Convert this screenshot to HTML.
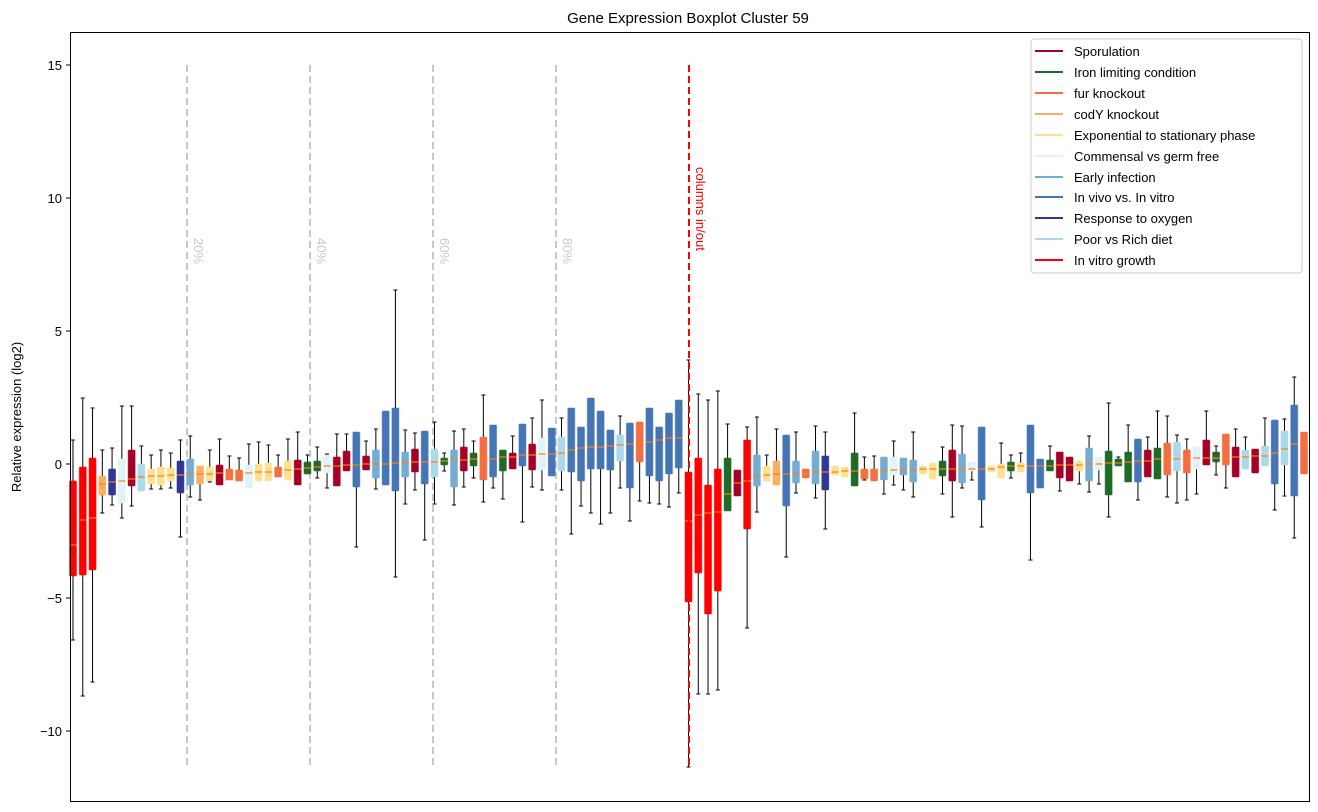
<!DOCTYPE html>
<html><head><meta charset="utf-8"><style>
body{margin:0;background:#fff}
svg{display:block;font-family:"Liberation Sans",sans-serif}
</style></head><body>
<svg id="s" width="1318" height="812" viewBox="0 0 1318 812" xmlns="http://www.w3.org/2000/svg">
<rect width="1318" height="812" fill="#fff"/>
<text x="688" y="23" font-size="15" text-anchor="middle">Gene Expression Boxplot Cluster 59</text>
<text transform="translate(21,417) rotate(-90)" font-size="13" text-anchor="middle">Relative expression (log2)</text>
<g font-size="13" text-anchor="end">
<line x1="66" x2="70" y1="65" y2="65" stroke="#000"/><text x="62" y="70">15</text>
<line x1="66" x2="70" y1="198" y2="198" stroke="#000"/><text x="62" y="203">10</text>
<line x1="66" x2="70" y1="331" y2="331" stroke="#000"/><text x="62" y="336">5</text>
<line x1="66" x2="70" y1="464" y2="464" stroke="#000"/><text x="62" y="469">0</text>
<line x1="66" x2="70" y1="598" y2="598" stroke="#000"/><text x="62" y="603">−5</text>
<line x1="66" x2="70" y1="731" y2="731" stroke="#000"/><text x="62" y="736">−10</text>
</g>
<g stroke="#c8c8c8" stroke-width="2" stroke-dasharray="7,4">
<line x1="187" x2="187" y1="65" y2="767"/><line x1="310" x2="310" y1="65" y2="767"/>
<line x1="433" x2="433" y1="65" y2="767"/><line x1="556" x2="556" y1="65" y2="767"/>
</g>
<g fill="#c8c8c8" font-size="13">
<text transform="translate(194,238) rotate(90)">20%</text>
<text transform="translate(317,238) rotate(90)">40%</text>
<text transform="translate(440,238) rotate(90)">60%</text>
<text transform="translate(563,238) rotate(90)">80%</text>
</g>
<g id="boxes"></g>
<line x1="689" x2="689" y1="65" y2="767" stroke="#f00" stroke-width="2" stroke-dasharray="7,4"/>
<text transform="translate(696,167) rotate(90)" fill="#f00" font-size="13">columns in/out</text>
<rect x="70.5" y="32.5" width="1239" height="769" fill="none" stroke="#000"/>
<rect x="1031" y="39" width="271" height="234" rx="3" fill="#fff" fill-opacity="0.85" stroke="#ccc"/>
<g font-size="13" stroke-width="2">
<line x1="1035" x2="1063" y1="51" y2="51" stroke="#a50026"/><text x="1074" y="56">Sporulation</text>
<line x1="1035" x2="1063" y1="72" y2="72" stroke="#1e6b28"/><text x="1074" y="77">Iron limiting condition</text>
<line x1="1035" x2="1063" y1="93" y2="93" stroke="#f46d43"/><text x="1074" y="98">fur knockout</text>
<line x1="1035" x2="1063" y1="114" y2="114" stroke="#fdae61"/><text x="1074" y="119">codY knockout</text>
<line x1="1035" x2="1063" y1="135" y2="135" stroke="#fee090"/><text x="1074" y="140">Exponential to stationary phase</text>
<line x1="1035" x2="1063" y1="156" y2="156" stroke="#e0f3f8"/><text x="1074" y="161">Commensal vs germ free</text>
<line x1="1035" x2="1063" y1="177" y2="177" stroke="#74add1"/><text x="1074" y="182">Early infection</text>
<line x1="1035" x2="1063" y1="197" y2="197" stroke="#4575b4"/><text x="1074" y="202">In vivo vs. In vitro</text>
<line x1="1035" x2="1063" y1="218" y2="218" stroke="#313695"/><text x="1074" y="223">Response to oxygen</text>
<line x1="1035" x2="1063" y1="239" y2="239" stroke="#abd9e9"/><text x="1074" y="244">Poor vs Rich diet</text>
<line x1="1035" x2="1063" y1="260" y2="260" stroke="#ff0000"/><text x="1074" y="265">In vitro growth</text>
</g>
</svg>
<script>
var C={S:"#a50026",I:"#1e6b28",F:"#f46d43",C:"#fdae61",E:"#fee090",M:"#e0f3f8",A:"#74add1",V:"#4575b4",O:"#313695",P:"#abd9e9",R:"#ff0000"};
var D=[
["R",440,481,545,576,640],["R",398,467,520,575,696],["R",408,458,518,570,682],["C",450,476,484,495,513],["O",448,469,482,495,505],
["M",406,459,481,503,518],["S",406,450,479,486,506],["P",446,464,477,491,491],["E",455,469,476,484,489],["E",450,467,476,485,489],
["E",453,468,475,481,488],["O",440,461,475,493,537],["A",436,459,474,485,497],["C",466,466,474,484,500],["E",450,467,474,481,482],
["S",439,465,473,485,485],["F",456,469,474,480,480],["F",458,470,473,481,481],["M",444,465,473,488,488],["E",442,464,472,481,481],
["E",445,463,472,481,481],["F",455,467,471,477,477],["E",439,461,470,480,480],["S",432,460,469,485,485],["I",455,462,468,474,474],
["I",447,461,467,471,478],["M",454,455,466,473,488],["S",434,457,466,486,486],["S",434,451,465,471,471],["V",432,432,465,487,547],
["S",441,456,464,470,470],["A",429,450,464,478,489],["V",411,411,464,485,485],["V",290,408,463,491,577],["A",430,452,463,477,504],
["S",433,449,462,472,490],["V",431,431,462,484,540],["P",422,449,462,477,504],["I",453,458,461,465,471],["A",431,450,460,487,505],
["S",429,447,460,471,487],["I",441,453,459,466,478],["F",395,437,459,480,502],["V",425,425,459,477,488],["I",450,450,457,471,499],
["S",436,453,457,469,469],["V",424,424,455,466,522],["S",418,444,455,470,487],["M",400,438,454,470,490],["V",428,428,454,476,476],
["P",418,437,453,471,490],["V",408,408,450,472,534],["V",427,427,448,481,506],["V",398,398,447,469,513],["V",411,411,447,469,524],
["V",430,430,446,470,513],["P",416,435,445,461,488],["V",423,423,444,488,521],["F",422,422,443,462,501],["V",408,408,442,476,503],
["V",427,427,440,481,504],["V",413,413,438,474,507],["V",400,400,438,468,493],["R",360,472,521,602,767],["R",394,458,515,573,694],
["R",400,485,513,614,694],["R",391,469,512,591,690],["I",424,458,494,511,511],["S",470,470,483,496,496],["R",427,440,481,529,628],
["A",417,455,476,486,512],["E",455,466,475,481,481],["C",429,461,474,485,485],["V",435,435,474,506,557],["A",432,461,474,483,493],
["F",469,469,474,478,478],["A",426,451,472,484,498],["O",432,456,472,490,529],["E",466,466,472,475,475],["E",467,467,471,477,477],
["I",413,453,471,486,486],["F",457,469,471,479,480],["F",456,469,471,481,481],["A",457,457,471,480,494],["M",441,457,470,475,485],
["A",458,458,470,475,490],["A",432,460,470,482,497],["E",466,466,469,474,474],["E",463,463,469,479,479],["I",447,461,469,476,494],
["S",425,450,469,481,517],["A",426,454,469,483,488],["M",462,462,469,471,480],["V",427,427,469,500,527],["E",466,466,469,472,472],
["E",443,464,467,478,478],["I",455,462,466,471,478],["E",453,463,466,472,472],["V",425,425,466,493,560],["V",459,459,466,488,488],
["I",446,460,466,471,471],["S",452,452,465,478,491],["S",457,457,465,481,481],["E",461,461,465,471,484],["A",436,448,464,481,492],
["M",457,457,464,470,484],["I",403,451,463,495,517],["I",457,459,463,466,466],["I",425,452,462,482,482],["V",439,439,461,482,500],
["S",437,450,461,477,477],["I",411,448,459,479,479],["F",416,443,459,475,497],["P",435,442,459,471,503],["F",439,450,459,473,500],
["M",447,447,458,469,494],["S",411,440,458,465,465],["I",446,452,458,462,475],["F",434,434,458,465,488],["S",429,447,457,477,477],
["P",437,450,457,469,469],["S",449,449,456,473,473],["P",418,446,456,466,466],["V",420,420,453,484,510],["P",419,431,449,465,496],
["V",377,405,444,496,538],["F",432,432,442,474,474]];
var ns="http://www.w3.org/2000/svg",g=document.getElementById("boxes"),h="";
D.forEach(function(d,i){var x=73+i*9.77,c=C[d[0]];
 if(d[1]<d[2])h+='<line x1="'+x+'" x2="'+x+'" y1="'+d[1]+'" y2="'+d[2]+'" stroke="#000"/><line x1="'+(x-2)+'" x2="'+(x+2)+'" y1="'+d[1]+'" y2="'+d[1]+'" stroke="#000"/>';
 if(d[5]>d[4])h+='<line x1="'+x+'" x2="'+x+'" y1="'+d[4]+'" y2="'+d[5]+'" stroke="#000"/><line x1="'+(x-2)+'" x2="'+(x+2)+'" y1="'+d[5]+'" y2="'+d[5]+'" stroke="#000"/>';
 h+='<rect x="'+(x-3.5)+'" y="'+d[2]+'" width="7" height="'+Math.max(2,d[4]-d[2])+'" rx="1" fill="'+c+'" stroke="'+c+'" stroke-opacity="0.5"/>';
 h+='<line x1="'+(x-3.5)+'" x2="'+(x+3.5)+'" y1="'+d[3]+'" y2="'+d[3]+'" stroke="#ff7f0e" stroke-width="1.2"/>';
});
g.innerHTML=h;
</script>
</body></html>
